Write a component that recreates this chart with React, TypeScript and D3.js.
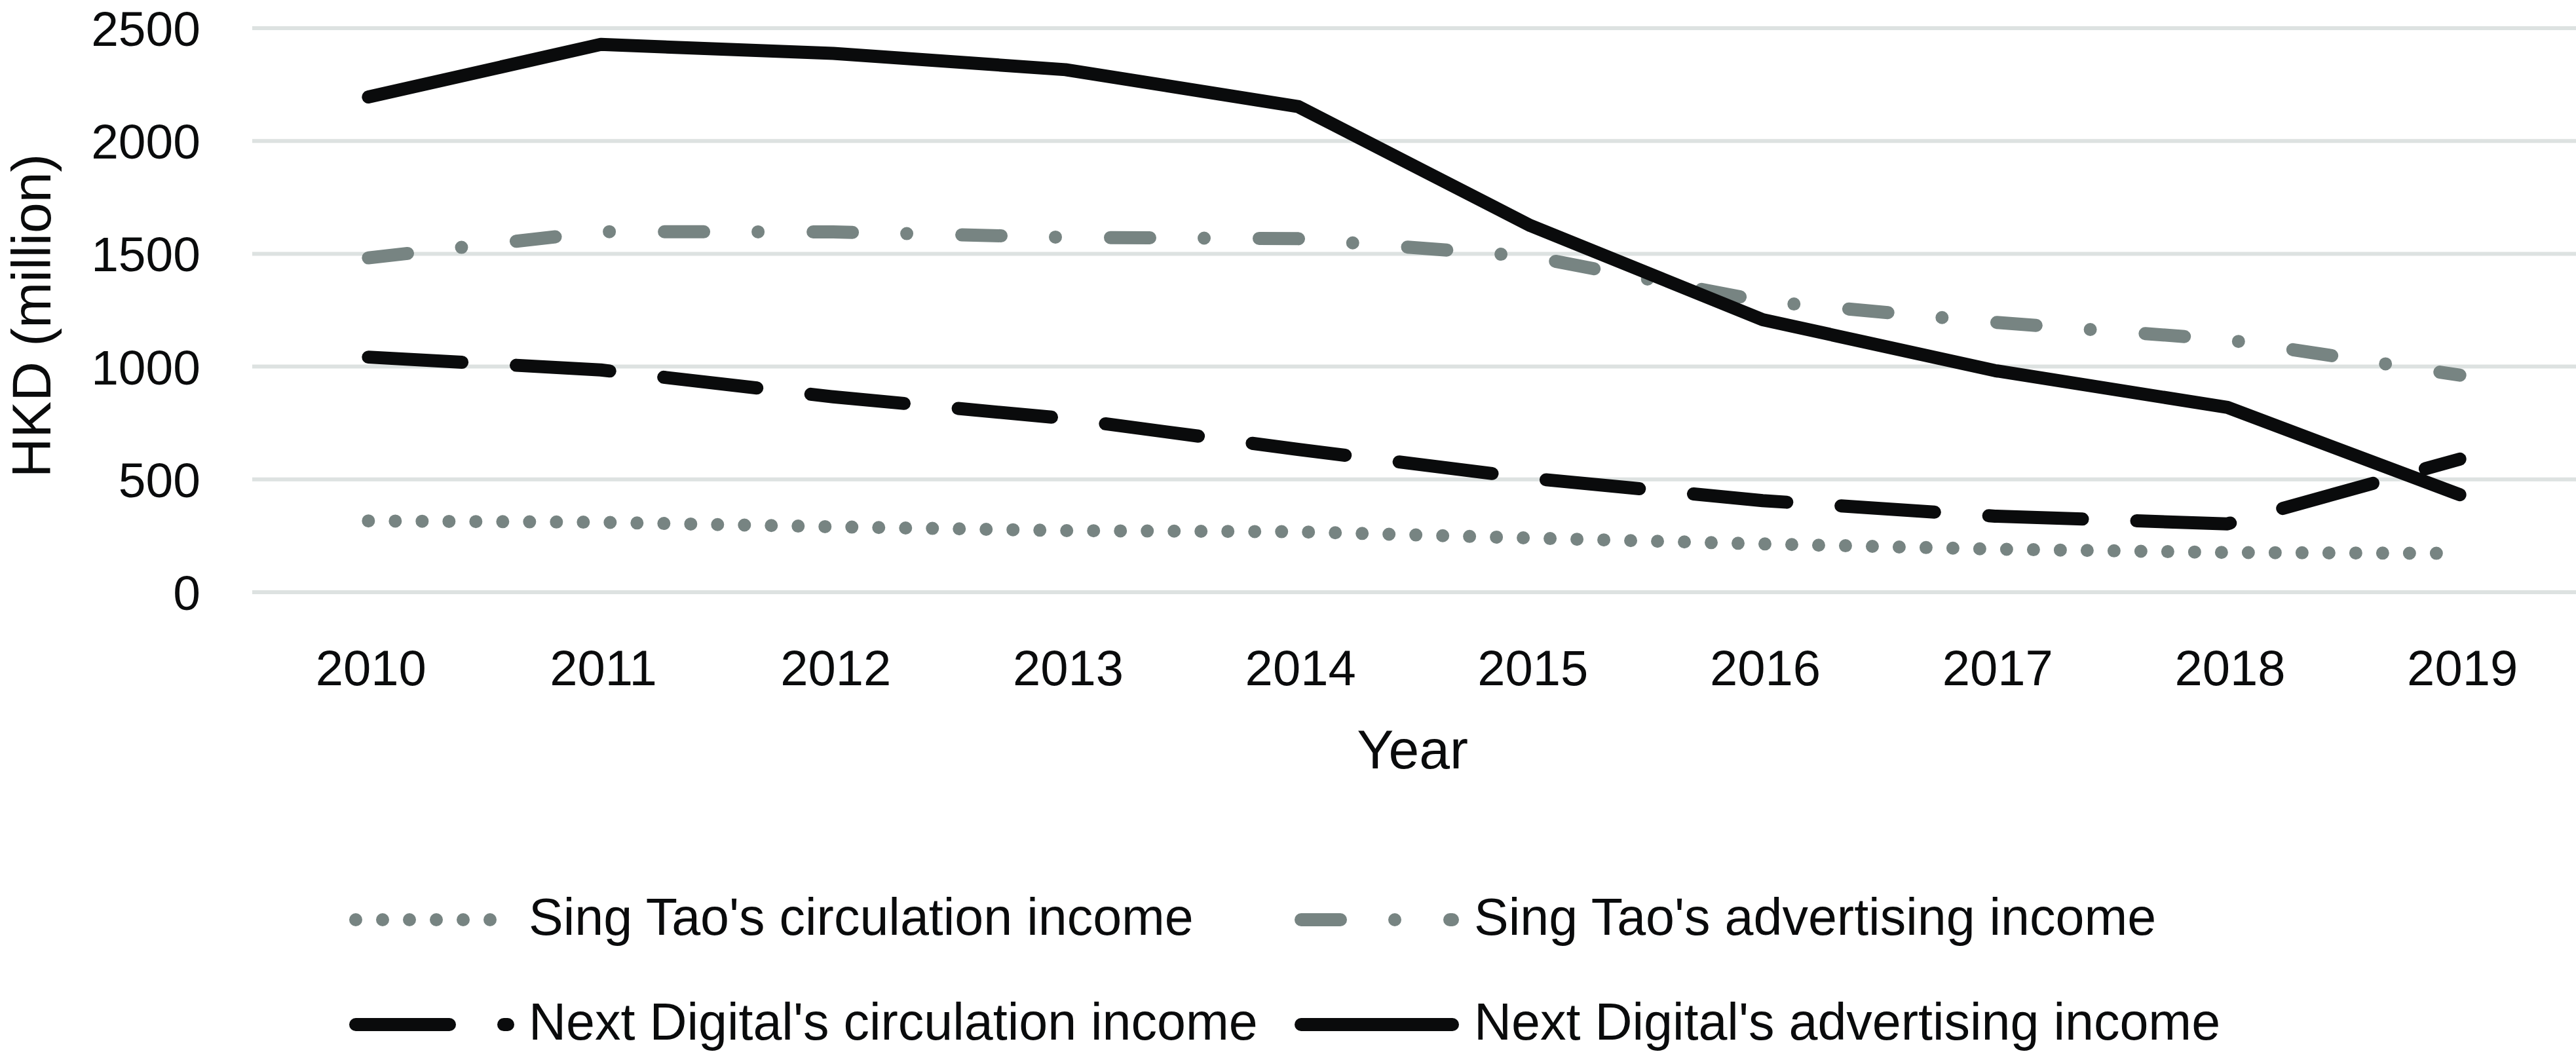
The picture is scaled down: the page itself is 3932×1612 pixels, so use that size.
import React from 'react';
import * as d3 from 'd3';

const years = ['2010', '2011', '2012', '2013', '2014', '2015', '2016', '2017', '2018', '2019'];
const yTicks = [0, 500, 1000, 1500, 2000, 2500];

// HKD million
const singTaoCirculation = [316, 310, 290, 273, 268, 240, 214, 191, 176, 172];
const singTaoAdvertising = [1482, 1598, 1597, 1573, 1567, 1488, 1290, 1196, 1119, 962];
const nextCirculation = [1042, 985, 866, 770, 633, 505, 406, 337, 303, 590];
const nextAdvertising = [2195, 2428, 2388, 2316, 2153, 1625, 1208, 982, 819, 432];

const seriesNames = [
  "Sing Tao's circulation income",
  "Sing Tao's advertising income",
  "Next Digital's circulation income",
  "Next Digital's advertising income",
];

const W = 3932;
const H = 1612;
const GREY = '#778482';
const BLACK = '#0a0b0c';
const FONT = '"Liberation Sans", Arial, sans-serif';

const series = [
  { name: seriesNames[0], values: singTaoCirculation, color: GREY, dash: '0 41' },
  { name: seriesNames[1], values: singTaoAdvertising, color: GREY, dash: '60 83 0 84' },
  { name: seriesNames[2], values: nextCirculation, color: BLACK, dash: '143 83' },
  { name: seriesNames[3], values: nextAdvertising, color: BLACK, dash: undefined },
];

const App: React.FC = () => {
  const x = d3.scaleBand<string>().domain(years).range([385, W]).padding(0);
  const y = d3.scaleLinear().domain([0, 2500]).range([904, 43]);
  const cx = (yr: string) => (x(yr) as number) + x.bandwidth() / 2;

  const line = d3.line<number>()
    .x((_, i) => cx(years[i]))
    .y((v) => y(v));

  // legend: 2 columns x 2 rows
  const legendCols = [[543, 775, 807], [1986, 2217, 2250]];
  const legendRows = [1404, 1564];

  return (
    <div>
      <style>{`body{margin:0;background:#fff}`}</style>
      <svg width={W} height={H} style={{ display: 'block', fontFamily: FONT }}>
        <rect width={W} height={H} fill="#fff" />

        {/* gridlines */}
        {yTicks.map((t) => (
          <line key={t} x1={385} x2={W} y1={y(t)} y2={y(t)} stroke="#dde2e1" strokeWidth={6} />
        ))}

        {/* y tick labels */}
        {yTicks.map((t) => (
          <text key={t} x={306} y={y(t)} dy="0.36em" textAnchor="end" fontSize={75} fill={BLACK}>
            {t}
          </text>
        ))}

        {/* x tick labels */}
        {years.map((yr) => (
          <text key={yr} x={cx(yr) + 4} y={1046} textAnchor="middle" fontSize={76} fill={BLACK}>
            {yr}
          </text>
        ))}

        <text x={2156} y={1173} textAnchor="middle" fontSize={84} fill={BLACK}>Year</text>
        <text transform="translate(77, 482) rotate(-90)" textAnchor="middle" fontSize={84} fill={BLACK}>
          HKD (million)
        </text>

        {/* series */}
        {series.map((s) => (
          <path
            key={s.name}
            d={line(s.values) || ''}
            fill="none"
            stroke={s.color}
            strokeWidth={20}
            strokeLinecap="round"
            strokeLinejoin="round"
            strokeDasharray={s.dash}
          />
        ))}

        {/* legend */}
        {series.map((s, i) => {
          const [x1, x2, tx] = legendCols[i % 2];
          const ly = legendRows[Math.floor(i / 2)];
          return (
            <g key={s.name}>
              <line x1={x1} x2={x2} y1={ly} y2={ly} stroke={s.color} strokeWidth={20}
                strokeLinecap="round" strokeDasharray={s.dash} />
              <text x={tx} y={ly + 23} fontSize={79} fill={BLACK}>{s.name}</text>
            </g>
          );
        })}
      </svg>
    </div>
  );
};

export default App;
